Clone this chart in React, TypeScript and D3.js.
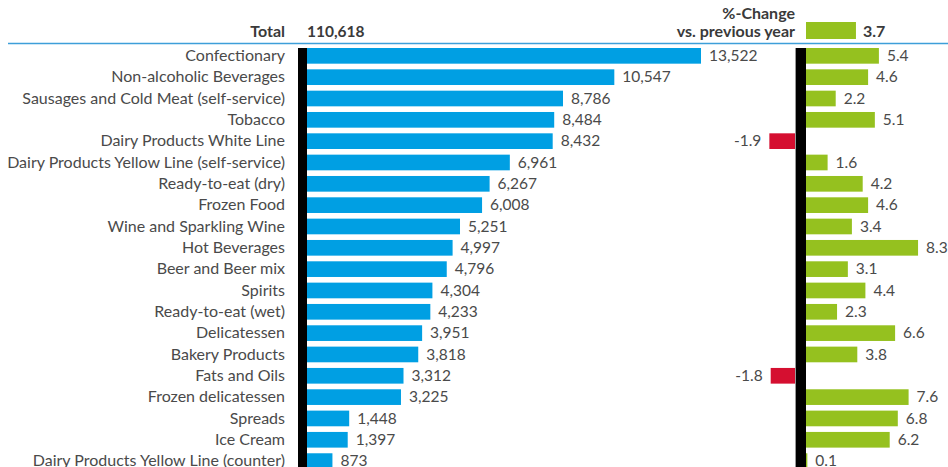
import React from "react";
import * as d3 from "d3";

const categories = [
  "Confectionary",
  "Non-alcoholic Beverages",
  "Sausages and Cold Meat (self-service)",
  "Tobacco",
  "Dairy Products White Line",
  "Dairy Products Yellow Line (self-service)",
  "Ready-to-eat (dry)",
  "Frozen Food",
  "Wine and Sparkling Wine",
  "Hot Beverages",
  "Beer and Beer mix",
  "Spirits",
  "Ready-to-eat (wet)",
  "Delicatessen",
  "Bakery Products",
  "Fats and Oils",
  "Frozen delicatessen",
  "Spreads",
  "Ice Cream",
  "Dairy Products Yellow Line (counter)",
];
const sales = [13522, 10547, 8786, 8484, 8432, 6961, 6267, 6008, 5251, 4997, 4796, 4304, 4233, 3951, 3818, 3312, 3225, 1448, 1397, 873];
const changes = [5.4, 4.6, 2.2, 5.1, -1.9, 1.6, 4.2, 4.6, 3.4, 8.3, 3.1, 4.4, 2.3, 6.6, 3.8, -1.8, 7.6, 6.8, 6.2, 0.1];
const totalSales = 110618;
const totalChange = 3.7;
const headerTotal = "Total";
const headerChange = ["%-Change", "vs. previous year"];

const W = 948;
const H = 467;
const FONT = "Lato, 'Open Sans', sans-serif";
const TEXT = "#4a4a4a";
const HEAD = "#3a3a3a";
const BLUE = "#009fe3";
const GREEN = "#95c11f";
const RED = "#d50f30";

export default function App() {
  const step = 21.33;
  const pad = 0.265;
  const y0 = 48;
  const y = d3
    .scaleBand<string>()
    .domain(categories)
    .range([y0, y0 + step * (categories.length - pad)])
    .paddingInner(pad)
    .paddingOuter(0);
  const bw = y.bandwidth();

  const xL = d3.scaleLinear().domain([0, 13522]).range([307, 701]);
  const pxPerPct = 13.5;
  const xPos = d3.scaleLinear().domain([0, 1]).range([806, 806 + pxPerPct]);
  const xNeg = d3.scaleLinear().domain([0, -1]).range([795, 795 - pxPerPct]);

  const fmtN = d3.format(",");
  const fmtP = (v: number) => d3.format(".1f")(v).replace("\u2212", "-");
  const fs = 15.5;
  const fsCat = 16;

  return (
    <div style={{ position: "absolute", left: 0, top: 0 }}>
      <svg width={W} height={H} style={{ display: "block" }} fontFamily={FONT}>
        <rect width={W} height={H} fill="#fff" />
        {/* header */}
        <text x={285} y={37} textAnchor="end" fontSize={16} fontWeight="bold" fill={HEAD}>
          {headerTotal}
        </text>
        <text x={307} y={37} textAnchor="start" fontSize={15.5} fontWeight="bold" fill={HEAD}>
          {fmtN(totalSales)}
        </text>
        <text x={795} y={19} textAnchor="end" fontSize={16} fontWeight="bold" fill={HEAD}>
          {headerChange[0]}
        </text>
        <text x={795} y={37} textAnchor="end" fontSize={16} fontWeight="bold" fill={HEAD}>
          {headerChange[1]}
        </text>
        <rect x={xPos(0)} y={22} width={xPos(totalChange) - xPos(0)} height={17} fill={GREEN} />
        <text x={xPos(totalChange) + 7} y={37} fontSize={16} fontWeight="bold" fill={HEAD}>
          {fmtP(totalChange)}
        </text>
        <line x1={8} x2={W} y1={43.5} y2={43.5} stroke="#3d9fd9" strokeWidth={1.5} />

        {categories.map((c, i) => {
          const yy = y(c)!;
          const cy = yy + bw / 2;
          const v = sales[i];
          const ch = changes[i];
          const pos = ch >= 0;
          return (
            <g key={c}>
              <text x={285} y={cy} dy="0.33em" textAnchor="end" fontSize={fsCat} fill={TEXT}>
                {c}
              </text>
              <rect x={xL(0)} y={yy} width={xL(v) - xL(0)} height={bw} fill={BLUE} />
              <text x={xL(v) + 8} y={cy} dy="0.33em" fontSize={fs} fill={TEXT}>
                {fmtN(v)}
              </text>
              {pos ? (
                <>
                  <rect x={xPos(0)} y={yy} width={xPos(ch) - xPos(0)} height={bw} fill={GREEN} />
                  <text x={xPos(ch) + 8} y={cy} dy="0.33em" fontSize={fs} fill={TEXT}>
                    {fmtP(ch)}
                  </text>
                </>
              ) : (
                <>
                  <rect x={xNeg(ch)} y={yy} width={xNeg(0) - xNeg(ch)} height={bw} fill={RED} />
                  <text x={xNeg(ch) - 8} y={cy} dy="0.33em" textAnchor="end" fontSize={fs} fill={TEXT}>
                    {fmtP(ch)}
                  </text>
                </>
              )}
            </g>
          );
        })}

        {/* axes */}
        <rect x={298} y={48} width={9} height={H - 48} fill="#000" />
        <rect x={795} y={48} width={11} height={H - 48} fill="#000" />
        <line x1={795.5} x2={795.5} y1={48} y2={H} stroke="#999" strokeWidth={1} />
      </svg>
    </div>
  );
}
